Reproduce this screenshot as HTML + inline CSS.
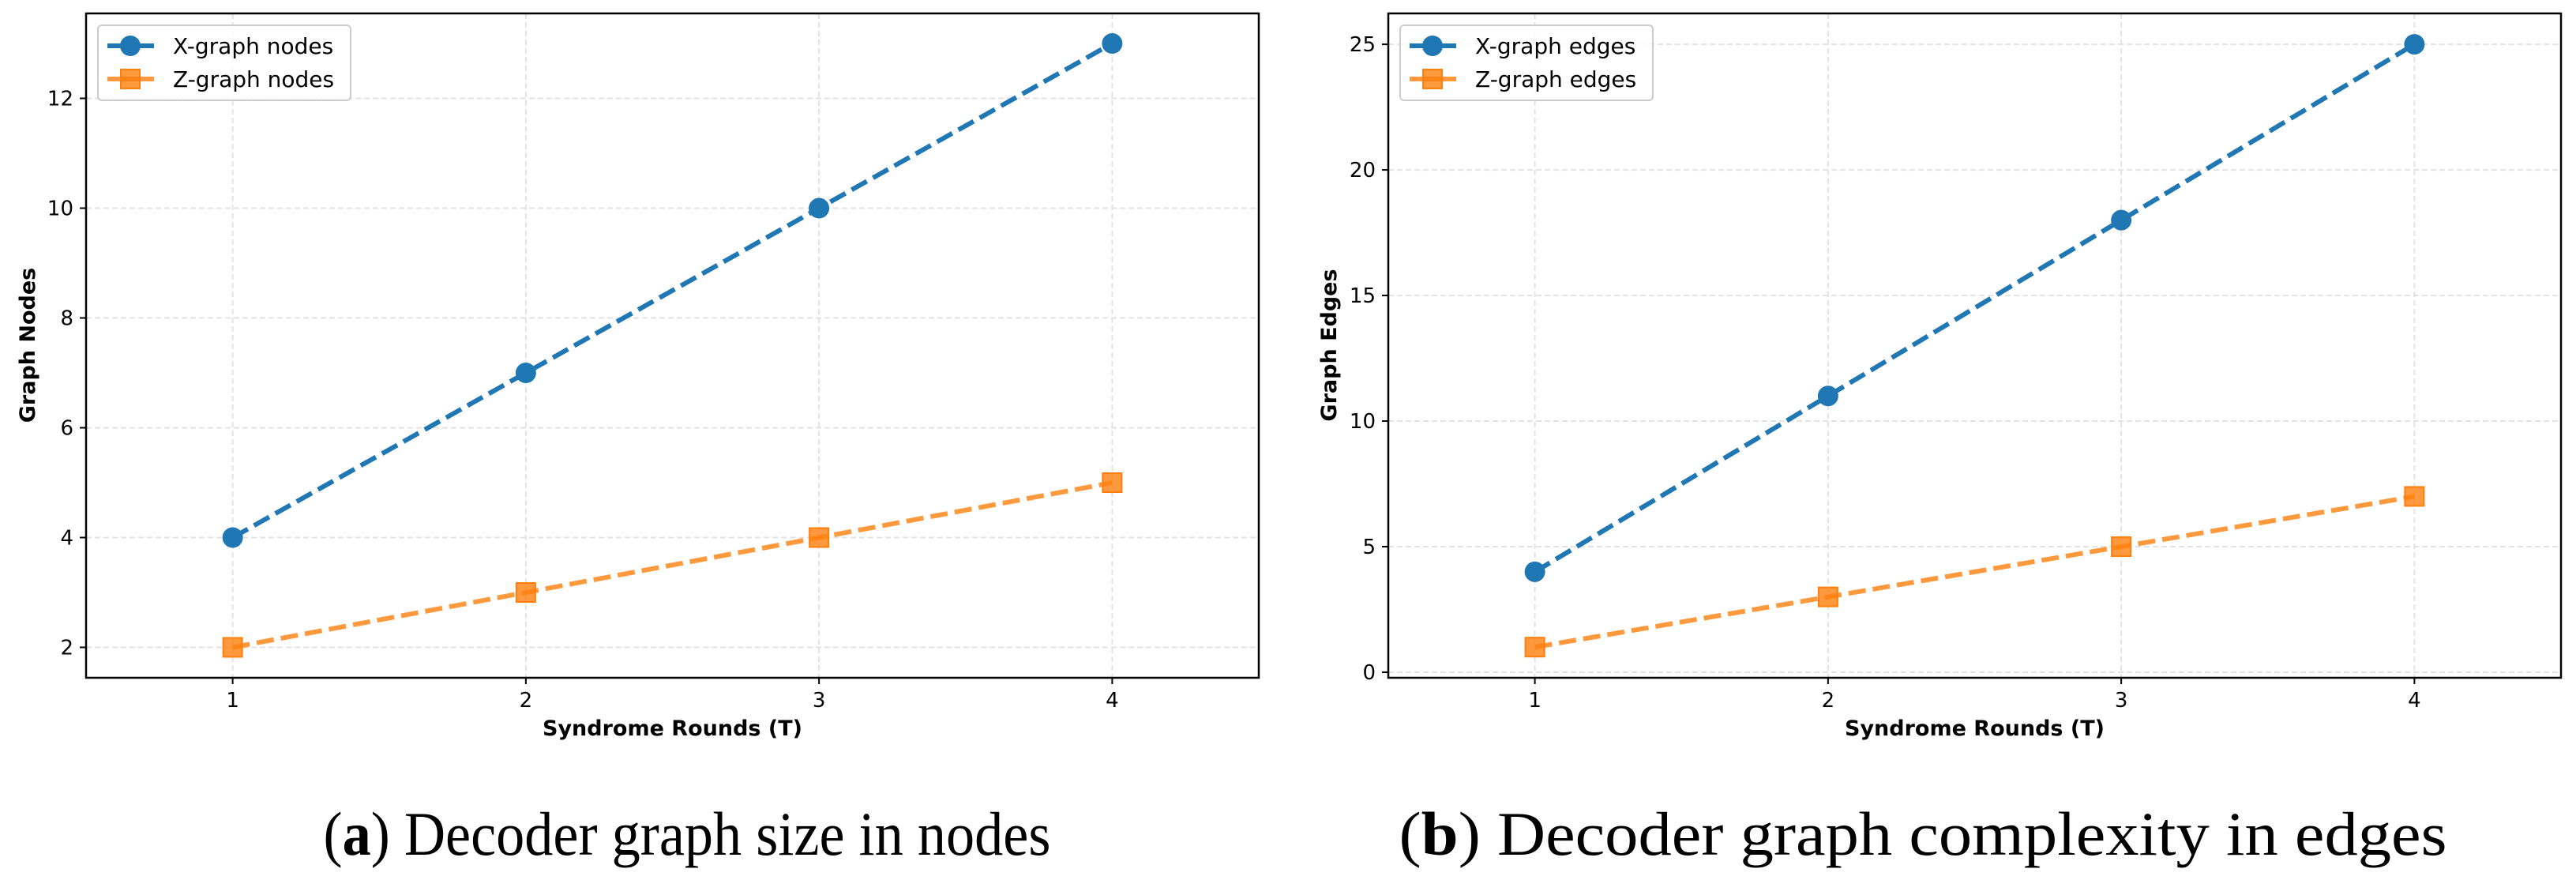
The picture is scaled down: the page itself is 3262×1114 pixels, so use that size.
<!DOCTYPE html>
<html><head><meta charset="utf-8"><style>
html,body{margin:0;padding:0;background:#fff;}
svg{display:block;}
text{font-family:"DejaVu Sans","Liberation Sans",sans-serif;}
</style></head><body>
<svg id="fig" width="3262" height="1114" viewBox="0 0 3262 1114" xmlns="http://www.w3.org/2000/svg">
<text x="870" y="1082" style="font-family:'Liberation Serif',serif" font-size="78" text-anchor="middle" textLength="921" lengthAdjust="spacingAndGlyphs">(<tspan font-weight="bold">a</tspan>) Decoder graph size in nodes</text>
<text x="2435" y="1082" style="font-family:'Liberation Serif',serif" font-size="78" text-anchor="middle" textLength="1327" lengthAdjust="spacingAndGlyphs">(<tspan font-weight="bold">b</tspan>) Decoder graph complexity in edges</text>
</svg>
<script>
const rounds = [1, 2, 3, 4];
const xNodes = [4, 7, 10, 13];
const zNodes = [2, 3, 4, 5];
const xEdges = [4, 11, 18, 25];
const zEdges = [1, 3, 5, 7];
const nodeTicks = [2, 4, 6, 8, 10, 12];
const edgeTicks = [0, 5, 10, 15, 20, 25];
const roundTicks = [1, 2, 3, 4];

const NS = "http://www.w3.org/2000/svg";
const svg = document.getElementById('fig');
function mk(tag, attrs, parent) {
  const e = document.createElementNS(NS, tag);
  for (const k in attrs) e.setAttribute(k, attrs[k]);
  (parent || svg).appendChild(e);
  return e;
}
function drawPanel(cfg) {
  const g = mk('g', {});
  
  
  const L = cfg.left, R = cfg.right, T = 17, B = 858;
  const sx = v => L + (v - cfg.xmin) / (cfg.xmax - cfg.xmin) * (R - L);
  const sy = v => B - (v - cfg.ymin) / (cfg.ymax - cfg.ymin) * (B - T);
  roundTicks.forEach(t => {
    const l = mk('line', {x1: sx(t), x2: sx(t), y1: T, y2: B, stroke: '#e3e3e3', 'stroke-width': 2, 'stroke-dasharray': '7,4'}, g);
    
    
  });
  cfg.yticks.forEach(t => {
    const l = mk('line', {x1: L, x2: R, y1: sy(t), y2: sy(t), stroke: '#e3e3e3', 'stroke-width': 2, 'stroke-dasharray': '7,4'}, g);
    
    
  });
  const series = [
    {vals: cfg.xs, color: '#1f77b4', shape: 'circle', op: 1, nm: 'x-graph-series'},
    {vals: cfg.zs, color: '#ff7f0e', shape: 'square', op: 0.8, nm: 'z-graph-series'}
  ];
  series.forEach(s => {
    const pts = rounds.map((r, i) => sx(r) + ',' + sy(s.vals[i])).join(' ');
    const pl = mk('polyline', {points: pts, fill: 'none', stroke: s.color, 'stroke-width': 6, 'stroke-dasharray': '22,9', opacity: s.op}, g);
    
    
    rounds.forEach((r, i) => {
      let m;
      if (s.shape === 'circle') m = mk('circle', {cx: sx(r), cy: sy(s.vals[i]), r: 13, fill: s.color}, g);
      else m = mk('rect', {x: sx(r) - 12, y: sy(s.vals[i]) - 12, width: 24, height: 24, fill: s.color, 'fill-opacity': 0.8, stroke: s.color, 'stroke-width': 2}, g);
      
      
    });
  });
  const fr = mk('rect', {x: L, y: T, width: R - L, height: B - T, fill: 'none', stroke: '#000', 'stroke-width': 2.5}, g);
  
  
  roundTicks.forEach(t => {
    mk('line', {x1: sx(t), x2: sx(t), y1: B, y2: B + 8, stroke: '#000', 'stroke-width': 2}, g);
    const tx = mk('text', {x: sx(t), y: 895, 'font-size': 26, 'text-anchor': 'middle'}, g);
    tx.textContent = t;
    
    
  });
  cfg.yticks.forEach(t => {
    mk('line', {x1: L - 8, x2: L, y1: sy(t), y2: sy(t), stroke: '#000', 'stroke-width': 2}, g);
    const tx = mk('text', {x: L - 16, y: sy(t) + 9, 'font-size': 26, 'text-anchor': 'end'}, g);
    tx.textContent = t;
    
    
  });
  const xl = mk('text', {x: (L + R) / 2, y: 931, 'font-size': 27, 'font-weight': 'bold', 'text-anchor': 'middle'}, g);
  xl.textContent = 'Syndrome Rounds (T)';
  
  
  const yl = mk('text', {x: 0, y: 0, 'font-size': 27, 'font-weight': 'bold', 'text-anchor': 'middle', transform: 'translate(' + cfg.ylabX + ',437) rotate(-90)'}, g);
  yl.textContent = cfg.ylabel;
  
  
  const lg = mk('g', {}, g);
  
  
  const lx = L + 15;
  mk('rect', {x: lx, y: 32, width: 320, height: 95, rx: 5, fill: '#fff', 'fill-opacity': 0.8, stroke: '#ccc', 'stroke-width': 2}, lg);
  [[0, '#1f77b4', 'circle', cfg.leg[0]], [1, '#ff7f0e', 'square', cfg.leg[1]]].forEach(([i, c, sh, lab]) => {
    const yy = 58 + i * 42;
    const e = mk('g', {}, lg);
    
    
    mk('line', {x1: lx + 12, x2: lx + 71, y1: yy, y2: yy, stroke: c, 'stroke-width': 6, opacity: i ? 0.8 : 1}, e);
    if (sh === 'circle') mk('circle', {cx: lx + 41, cy: yy, r: 13, fill: c}, e);
    else mk('rect', {x: lx + 29, y: yy - 12, width: 24, height: 24, fill: c, 'fill-opacity': 0.8, stroke: c, 'stroke-width': 2}, e);
    const t = mk('text', {x: lx + 95, y: yy + 10, 'font-size': 28}, e);
    t.textContent = lab;
  });
}
drawPanel({name: 'nodes-chart', left: 109, right: 1594, xmin: 0.5, xmax: 4.5, ymin: 1.446, ymax: 13.547,
  yticks: nodeTicks, xs: xNodes, zs: zNodes, ylabel: 'Graph Nodes', ylabX: 44, leg: ['X-graph nodes', 'Z-graph nodes']});
drawPanel({name: 'edges-chart', left: 1758, right: 3243, xmin: 0.5, xmax: 4.5, ymin: -0.22, ymax: 26.23,
  yticks: edgeTicks, xs: xEdges, zs: zEdges, ylabel: 'Graph Edges', ylabX: 1692, leg: ['X-graph edges', 'Z-graph edges']});
</script>
</body></html>
